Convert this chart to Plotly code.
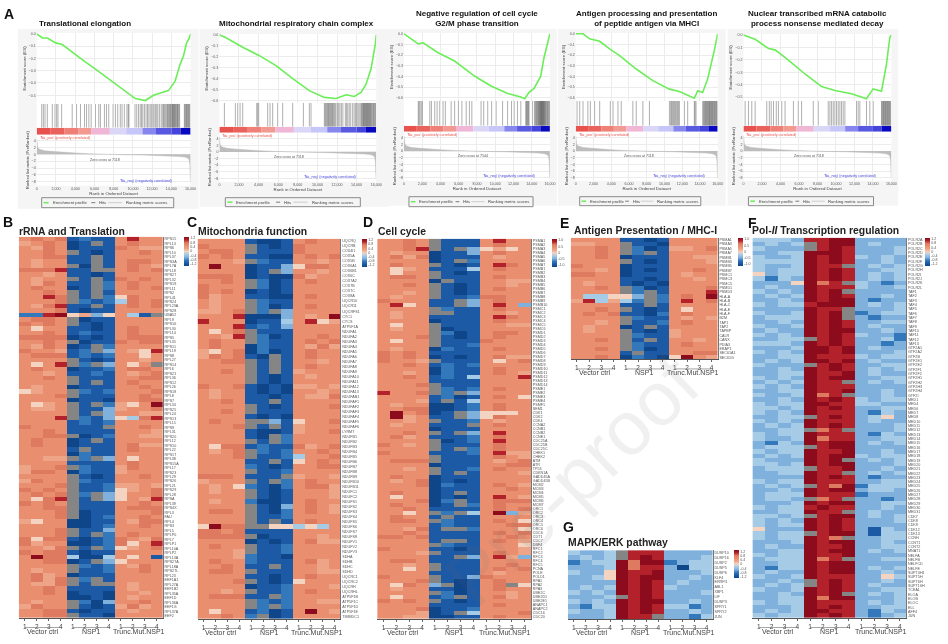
import plotly.graph_objects as go

W, H = 948, 644

# ---------- GSEA data ----------
GSEA_TITLES = ["Translational elongation", "Mitochondrial respiratory chain complex",
               "Negative regulation of cell cycle<br>G2/M phase transition",
               "Antigen processing and presentation<br>of peptide antigen via MHCI",
               "Nuclear transcribed mRNA catabolic<br>process nonsense mediated decay"]
ZERO_CROSS = [7118, 7118, 7544, 7118, 7118]
ES_RANK_1 = [0, 590, 1100, 1970, 2660, 3520, 4900, 5930, 7660, 9380, 10250, 11280, 12140, 13180, 13700, 14390, 14900, 15250, 15590, 15870, 16000]
ES_VAL_1 = [0, -0.033, -0.033, -0.073, -0.087, -0.14, -0.22, -0.277, -0.38, -0.48, -0.527, -0.543, -0.5, -0.473, -0.462, -0.386, -0.25, -0.182, -0.073, -0.033, 0]
ES_RANK_2 = [0, 680, 2380, 4080, 5780, 7480, 9180, 10710, 11900, 12925, 13775, 14455, 14965, 15475, 15920, 16000]
ES_VAL_2 = [0, -0.027, -0.113, -0.19, -0.28, -0.40, -0.509, -0.57, -0.58, -0.546, -0.562, -0.526, -0.45, -0.31, -0.08, 0]
ES_RANK_3 = [0, 1560, 2100, 3740, 5550, 7730, 9540, 11360, 12810, 13240, 13715, 14260, 14985, 15350, 15710, 16000]
ES_VAL_3 = [0, -0.094, -0.084, -0.178, -0.256, -0.397, -0.49, -0.56, -0.594, -0.61, -0.55, -0.513, -0.4, -0.225, -0.1, 0]
ES_RANK_4 = [0, 820, 1570, 2700, 3820, 4940, 6820, 8690, 10560, 11690, 13370, 13750, 14310, 14870, 15620, 16000]
ES_VAL_4 = [0, 0, -0.047, -0.07, -0.142, -0.205, -0.331, -0.44, -0.52, -0.543, -0.606, -0.536, -0.552, -0.426, -0.158, 0]
ES_RANK_5 = [0, 1260, 2700, 3420, 4860, 6650, 8450, 9890, 11690, 13300, 14030, 14930, 15470, 15830, 16000]
ES_VAL_5 = [0, -0.035, -0.109, -0.12, -0.202, -0.314, -0.415, -0.447, -0.473, -0.513, -0.434, -0.452, -0.234, -0.021, 0]

HITS_1 = [520, 690, 860, 1100, 1620, 1900, 2070, 2210, 2590, 3690, 4140, 4550, 4970, 5180, 5420, 5660, 6110, 6450, 6620, 7040, 7250, 7490, 7940, 8180, 8420, 8690, 8870, 9110, 9380, 9520, 9590, 10220, 10400, 10590, 10760, 10900, 11030, 11200, 11370, 11520, 11660, 11800, 11950, 12080, 12200, 12340, 12480, 12600, 12780, 12950, 13100, 13190, 13280, 13400, 13510, 13600, 13680, 13760, 13840, 13900, 13980, 14060, 14120, 14180, 14240, 14300, 14360, 14420, 14500, 14570, 14640, 14700, 14780, 14860, 15350, 15420, 15500, 15570, 15640, 15710, 15790, 15860, 15930]
HITS_2 = [510, 1630, 1870, 2110, 2380, 3810, 3910, 4010, 4930, 5170, 5440, 5950, 6460, 7480, 8570, 9180, 9350, 10710, 10800, 10880, 10970, 11050, 11130, 11210, 11290, 11370, 11450, 11540, 11620, 11710, 11800, 11900, 12050, 12170, 12300, 12450, 12600, 12850, 12980, 13100, 13250, 13400, 13600, 13750, 13900, 14000, 14130, 14250, 14380, 14500, 14570, 14640, 14700, 14760, 14820, 14880, 14940, 15000, 15060, 15120, 15180, 15240, 15300, 15360, 15420, 15500, 15570, 15650, 15730, 15800, 15880, 15950]
HITS_3 = [1560, 1650, 1760, 1900, 2030, 2830, 3010, 3370, 3630, 3920, 4280, 4530, 5170, 5550, 5970, 6350, 6820, 7170, 7440, 8450, 8740, 9180, 9610, 10100, 10810, 11360, 11790, 12080, 12440, 12810, 13350, 13420, 13500, 13570, 13640, 13720, 14080, 14300, 14400, 14480, 14550, 14620, 14700, 14760, 14820, 14880, 14930, 14980, 15030, 15080, 15130, 15180, 15230, 15280, 15330, 15380, 15440, 15500, 15570, 15650, 15730, 15800, 15880, 15950]
HITS_4 = [150, 450, 820, 1370, 1650, 2130, 2700, 3900, 4200, 4760, 5130, 6440, 6820, 7570, 8310, 10560, 10700, 10800, 10900, 11020, 11130, 11240, 11350, 11470, 11580, 11690, 12250, 12620, 13370, 13450, 13560, 14310, 14400, 14500, 14570, 14640, 14720, 14790, 14870, 14940, 15010, 15080, 15150, 15220, 15290, 15360, 15430, 15500, 15580, 15650, 15730, 15800, 15880, 15950]
HITS_5 = [180, 540, 900, 1260, 2520, 2800, 3000, 3250, 3550, 3780, 4140, 4500, 5400, 5930, 6290, 7550, 8090, 9170, 9350, 9530, 9710, 9890, 10070, 10250, 10430, 10610, 10790, 10970, 12230, 12410, 12590, 13310, 13670, 14030, 14930, 15010, 15080, 15150, 15220, 15290, 15360, 15430, 15500, 15570, 15640, 15710, 15780, 15850, 15930]

RANK_X = [0, 30, 100, 300, 800, 1500, 2500, 4000, 5500, 7118, 9000, 11000, 12500, 13800, 14800, 15400, 15700, 15850, 15920, 15970, 16000]
RANK_METRIC = [4.6, 3, 2, 1.5, 1.1, 0.9, 0.65, 0.4, 0.18, 0, -0.1, -0.2, -0.3, -0.45, -0.6, -0.8, -1.1, -1.6, -3, -7, -8.2]
BAND_EDGES = [0, 1400, 2900, 4300, 5700, 7600, 9300, 11000, 12400, 14000, 14950, 16000]
BAND_COLORS = ["#e8524c", "#ea625c", "#ef8078", "#f29a92", "#efb6d6", "#d9d6f6", "#c6c6f8", "#8686ee", "#5858e0", "#4444dc", "#0808c0"]

GSEA_BOX = [
    dict(x0=36, x1=191, es0=32, es1=103, hit1=127, band1=134, rank1=185, esmin=-0.57, rmax=5.75, rmin=-9.2, bg=(17, 199, 28, 208), leg=(41, 174, 197, 207)),
    dict(x0=220, x1=378, es0=33, es1=102, hit1=126, band1=132, rank1=181, esmin=-0.62, rmax=5.8, rmin=-9.0, bg=(200, 390, 28, 206), leg=(226, 362, 197, 206)),
    dict(x0=406, x1=553, es0=32, es1=100, hit1=125, band1=131, rank1=180, esmin=-0.63, rmax=5.8, rmin=-8.9, bg=(390, 560, 28, 205), leg=(411, 536, 196, 206)),
    dict(x0=579, x1=722, es0=32, es1=100, hit1=125, band1=131, rank1=180, esmin=-0.63, rmax=5.8, rmin=-8.9, bg=(561, 730, 28, 205), leg=(583, 705, 196, 205)),
    dict(x0=748, x1=897, es0=33, es1=100, hit1=125, band1=131, rank1=180, esmin=-0.53, rmax=5.8, rmin=-8.9, bg=(732, 904, 28, 205), leg=(753, 879, 196, 205)),
]
ES_DATA = [(ES_RANK_1, ES_VAL_1, HITS_1), (ES_RANK_2, ES_VAL_2, HITS_2), (ES_RANK_3, ES_VAL_3, HITS_3), (ES_RANK_4, ES_VAL_4, HITS_4), (ES_RANK_5, ES_VAL_5, HITS_5)]

# ---------- Heatmap data: one string per gene, 12 samples; levels 0 (deep blue) .. 9, T (deep red); x = missing ----------
B_ROWS = ["7878 1211 7977","6787 01x1 7877","7687 0111 8766","7787 x101 7787","7788 11x1 7777","7677 11x1 7887","7677 x0x1 7876","8889 11xx 7878","7767 1101 7777","7677 x1x1 8787",
"7687 11x2 7877","7877 01x2 7878","7787 x1x1 7777","7798 x1x2 5877","7778 x212 4878","7689 11x1 7878","7778 1011 7777","229T 5635 741x","7887 x011 7777","8787 x101 7777",
"7577 1101 7877","7787 1211 7877","8888 0101 7888","7787 x011 8788","7687 01x2 7777","8776 12x3 7659","7888 1212 7757","7777 x101 7767","7579 x2x3 757x","7877 0112 7887",
"7767 1121 7678","7787 x111 7788","7777 x1x1 7877","7677 0111 7787","5677 x212 7778","7778 x111 7787","7777 0110 7788","7567 x1x2 657T","7667 x113 6778","7777 x1x3 7766",
"7779 x213 5489","7777 1212 7777","8777 111x 7787","7787 1111 7776","7788 x012 7766","7877 01x1 7777","7877 0111 7866","7777 1x11 7877","7777 0211 7777","7766 x2x3 7577",
"7777 1111 7877","6778 x211 6877","6887 0211 6777","7777 x101 7787","6877 x211 7777","7778 x112 6676","8787 x112 5678","7878 x2x3 5778","7589 x1x3 5769","8787 x111 7787",
"7788 x111 7888","7778 x011 7778","7778 x012 7787","6577 0011 7688","7777 0012 7787","7778 x113 7777","7778 x1x2 7877","8588 1012 8768","8677 0012 8579","7768 x1x2 5678",
"8788 1011 7777","7T88 4004 7571","7788 01x3 5777","7777 x212 7687","7677 x112 7787","7867 0111 7777","7868 x2x1 7777","7668 x1xx 7677","7787 1111 7677","7787 0110 7767",
"7777 0010 7677","7677 x203 7787","6877 x101 6867","7788 1011 7677","7788 x110 7777"]
C_ROWS = ["7777 1001 7877","8777 x101 8777","7887 x111 8777","8787 1100 7878","7776 x211 7767","7T77 0113 5887","7777 01x3 7767","8887 0100 8677","7787 x201 7877","8777 x201 7777",
"8787 0101 7777","8677 1100 7877","7677 x211 7777","7677 x201 7877","6678 x2x3 7777","7779 0003 767T","9777 0114 7956","7779 1213 7777","7578 x111 7777","7769 x201 7787",
"7877 x211 7878","7877 0211 7686","6578 0201 7877","6878 10x1 7877","7788 x1x1 7767","7777 x1x1 7877","7787 x1x1 6777","7777 x101 7677","7777 x101 7777","8778 1010 6676",
"7677 1010 7767","7677 1101 7668","7787 11x1 7777","7777 x101 7778","7787 x111 7777","7777 1010 7777","7877 xx31 5778","7778 x1x1 6777","7777 1001 6778","7777 10x2 7777",
"7777 x1x2 7777","7588 1211 8678","7678 x212 7787","7778 x112 4778","7777 11x1 5787","7777 2101 7788","7777 x112 7777","8887 111x 6776","6777 x1x2 7877","7675 2102 7886",
"7677 x101 7776","7777 x101 7776","7677 2001 7877","7777 x103 7876","7887 x102 7876","7777 x112 7777","7777 x1x1 7877","5T88 xx55 4547","8878 1111 7777","8888 x011 7767",
"7777 0101 7866","7877 x112 7777","7776 x112 7777","7776 2110 7777","7877 2111 7867","7787 11x1 7767","7887 x111 7766","7777 1101 7877","7778 x101 5777","7777 0112 7776",
"7767 x112 7877","7888 11x2 7777","7777 x212 7766","7777 x2x2 7777","7577 1201 7T76","7787 2x01 7777"]
D_ROWS = ["7787 x111 7977","7787 x111 7877","7789 x1x3 5657","7677 0113 7877","7868 0111 7677","7777 01x2 7777","7877 x101 7987","7567 1114 7877","7577 x101 7777","7887 x111 7877",
"7777 0x11 7766","7787 x101 7767","7777 x101 7877","7767 x101 7777","7677 x112 8877","8777 11x3 7877","7957 11x3 7973","7777 x211 7877","7677 xx11 7767","7677 1111 7987",
"7777 0111 7877","7577 x111 7766","7677 x011 7777","7777 x201 7887","7778 x101 7877","7577 x111 8777","7777 x112 7777","7677 0211 7877","8787 1111 7777","8787 0101 7866",
"8776 x111 7578","7787 1212 7777","7777 0211 7877","7767 0211 7876","7787 1214 7779","7777 1111 7777","7778 x111 7777","7777 x212 7877","9778 x2x3 7777","7777 1201 7875",
"7776 1x14 7777","7677 0012 7877","7788 0012 7877","7T78 01x3 5557","7T67 11x3 5877","7767 x112 7677","7677 111x 7877","7777 0111 7777","7787 x1x3 7977","7867 1112 7877",
"7777 x012 7977","8767 x111 7877","7777 x1x2 7877","8777 1112 7966","7777 x111 7876","7888 x111 7678","7777 0111 7788","7767 x112 7877","7777 x1x1 7776","7877 0111 7777",
"7678 0101 7777","7778 0211 7876","7777 0111 7787","7877 01x1 7777","7577 0101 7976","7778 02x1 7888","7877 01x2 7877","7787 1111 7878","7757 x2x4 7T36","7877 1x11 7777",
"7887 x211 7875","7777 1211 7788","7768 1xx2 7775","7787 1111 7878","8878 1111 7787","7777 1xx1 7876","7777 x211 7775","8777 1101 7776","7776 x111 7876","7777 11x3 7963",
"7887 1111 7777","7767 x111 7787","7757 x111 7878","7777 1111 7677","8777 x113 8777","7778 x101 7877","7587 3x01 78x5","7677 1101 7877","7777 x201 7767","7577 12x1 7867",
"8787 x101 7777","7777 1111 7877","7778 0112 7777","7776 01x4 7778","7766 0011 7877"]
E_ROWS = ["7777 1101 7777","6677 x110 7777","7787 x201 6678","7787 x2x1 7777","7787 0111 7766","7777 x101 7776","8777 0111 7777","7767 0101 7787","8877 0111 7677","7777 1101 7767",
"7677 1010 7777","7787 x201 7778","7777 x2x1 7779","7445 53x2 787T","6946 42x2 7978","7777 11x1 7777","7787 x101 7577","7878 1102 7877","7777 x211 7676","7767 x112 7877",
"7677 01x1 7777","7677 x101 6777","7777 x211 6777","7787 x1x1 7767","7777 x211 7877","7787 x201 7777","7777 1x11 7788","7787 0210 5T76"]
F_ROWS = ["4443 99TT 3333","3434 x9TT 3433","4333 x9T9 3334","3344 TTT9 3334","4334 T9T9 4343","4444 T9T9 3343","4334 T99x 3434","4344 T9T9 3344","5344 T9T9 3434","4243 T9T9 3434",
"3335 T89x 4323","3433 T999 4334","4343 T9Tx 3333","3434 T9T9 3343","3343 T9TT 3233","4344 9TTT 3434","3333 T99x 3334","4334 T9Tx 2344","3444 T9Tx 3233","3343 T9T9 3344",
"4334 T9T9 3433","3433 T9TT 3343","4343 T9T9 4332","3344 x9T9 3342","4443 T9T9 3323","3334 TT9T 3433","4343 TT9T 3334","3344 T999 4344","3434 TT9T 3433","4333 x9T9 3344",
"3343 T9T9 3434","3344 T99T 3433","4343 T9TT 3344","3434 T99x 3434","4343 T999 3333","3344 T99T 3343","4334 T89x 3343","3343 T9T9 4344","4344 TT99 4433","4434 T9T9 3344",
"4343 T999 3243","3344 x9T9 3453","4343 T999 3433","3434 T9T9 3334","3344 x89x 3334","4344 T999 3243","4334 T899 3344","3243 T9TT 3434","3444 x9TT 3333","4344 T99T 3343",
"3434 T9TT 4344","4333 T9Tx 3434","4434 T9TT 3334","3444 x99T 3343","3344 T99x 3434","3333 T9T9 3233","4344 T999 3344","3434 x98T 2444","3343 T9TT 3443","3444 T999 2333",
"3443 x89x 3323","3334 T9TT 3344","4344 9T99 3343","3344 T99x 3433","4434 x9TT 3434","4343 T9T9 3334","4344 T9T9 3333","5333 T9T9 3143","4344 x9TT 3144","4344 T98x 3344",
"3334 T9TT 3343","3433 T99T 3344","3344 T9TT 3434","4344 T99T 3333","3444 T89x 3344","3344 T9TT 3333","3244 T9TT 3434","3433 T9TT 3343","4334 T999 3354","3343 x9T9 3343",
"3434 x9T9 3433","4334 T9T9 3344","3343 T9Tx 3434","3344 T8TT 3334","4344 T999 3434","3334 T9T9 3344","3434 TT99 3243","4344 T9T9 3234"]
G_ROWS = ["4334 x999 3333","3434 x9T9 3334","2344 T8TT 2344","3334 T899 3044","4335 T99T 3334","3345 T9TT 3343","3333 T9T9 3433","3434 T9T9 4333","4343 T9T9 3334","3334 x9T9 3333",
"4343 T9TT 3343","3244 T9T9 4423","4334 T9T9 3343","3334 T99x 3324"]

B_GENES = "RPS15 RPL13 RPS6 RPL10 RPL37 RPS3A RPL7A RPL18 RPS27 RPL32 RPS19 RPL11 RPS2 RPL41 RPS24 RPL23A RPS28 UBA52 RPL9 RPS16 RPL30 RPL14 RPS5 RPL35 RPS11 RPL19 RPS8 RPL27 RPS14 RPL6 RPS21 RPL36 RPS12 RPL26 RPS18 RPL8 RPS7 RPL34 RPS25 RPL24 RPS13 RPL15 RPS9 RPL31 RPS20 RPL12 RPS10 RPL22 RPS17 RPL38 RPS15A RPL17 RPS23 RPL29 RPS26 RPL21 RPS29 RPL28 RPSA RPL39 RPS4X RPL3 FAU RPL4 RPS3 RPL5 RPLP0 RPL7 RPLP1 RPL10A RPLP2 RPL13A RPS27A RPL18A RPS27L RPL23 EEF1A1 RPL27A EEF1B2 RPL35A EEF1D RPL36A EEF1G RPL37A EEF2".split()
C_GENES = "UQCRQ UQCRB COX4I1 COX5A COX5B COX6A1 COX6B1 COX6C COX7A2 COX7B COX7C COX8A UQCR10 UQCR11 UQCRFS1 CYC1 CYCS ATP5F1A NDUFA1 NDUFA2 NDUFA3 NDUFA4 NDUFA5 NDUFA6 NDUFA7 NDUFA8 NDUFA9 NDUFA10 NDUFA11 NDUFA12 NDUFA13 NDUFAB1 NDUFAF1 NDUFAF2 NDUFAF3 NDUFAF4 NDUFAF5 NDUFAF6 LYRM7 NDUFB1 NDUFB2 NDUFB3 NDUFB4 NDUFB5 NDUFB6 NDUFB7 NDUFB8 NDUFB9 NDUFB10 NDUFB11 NDUFC1 NDUFC2 NDUFS1 NDUFS2 NDUFS3 NDUFS4 NDUFS5 NDUFS6 NDUFS7 NDUFS8 NDUFV1 NDUFV2 NDUFV3 SDHA SDHB SDHC SDHD UQCRC1 UQCRC2 UQCRH UQCRHL ATP5F1B ATP5F1C ATP5F1D ATP5F1E TIMMDC1".split()
D_GENES = "PSMA1 PSMA2 PSMA3 PSMA4 PSMA5 PSMA6 PSMA7 PSMB1 PSMB2 PSMB3 PSMB4 PSMB5 PSMB6 PSMB7 PSMB8 PSMB9 PSMB10 PSMC1 PSMC2 PSMC3 PSMC4 PSMC5 PSMC6 PSMD1 PSMD2 PSMD3 PSMD4 PSMD5 PSMD6 PSMD7 PSMD8 PSMD9 PSMD10 PSMD11 PSMD12 PSMD13 PSMD14 PSME1 PSME2 PSME3 PSME4 PSMF1 SEM1 CDK1 CDK2 CDK4 CCNA2 CCNB1 CCNB2 CCNE1 CDC25A CDC25B CDC25C CHEK1 CHEK2 ATM ATR TP53 CDKN1A GADD45A GADD45B MCM2 MCM3 MCM4 MCM5 MCM6 MCM7 ORC1 ORC2 ORC3 ORC4 ORC5 ORC6 CDC6 CDT1 CDC7 DBF4 RFC1 RFC2 RFC3 RFC4 RFC5 PCNA POLE POLD1 RPA1 RPA2 RPA3 UBE2C UBE2D1 UBE2E1 ANAPC1 ANAPC2 CDC16 CDC20".split()
E_GENES = "PSMA1 PSMA3 PSMA5 PSMA7 PSMB1 PSMB3 PSMB5 PSMB7 PSMC1 PSMC3 PSMC5 PSMD1 PSMD3 HLA-A HLA-B HLA-C HLA-E HLA-F B2M TAP1 TAP2 TAPBP CALR CANX PDIA3 ERAP1 SEC61A1 SEC61G".split()
F_GENES = "POLR2A POLR2B POLR2C POLR2D POLR2E POLR2F POLR2G POLR2H POLR2I POLR2J POLR2K POLR2L TAF1 TAF2 TAF3 TAF4 TAF5 TAF6 TAF7 TAF8 TAF9 TAF10 TAF11 TAF12 TAF13 GTF2A1 GTF2A2 GTF2B GTF2E1 GTF2E2 GTF2F1 GTF2F2 GTF2H1 GTF2H2 GTF2H3 GTF2H4 GTF2I MED1 MED4 MED6 MED7 MED8 MED10 MED11 MED12 MED13 MED14 MED15 MED16 MED17 MED18 MED19 MED20 MED21 MED22 MED23 MED24 MED25 MED26 MED27 MED28 MED29 MED30 MED31 CDK7 CDK8 CDK9 CDK12 CDK13 CCNH CCNT1 CCNT2 MNAT1 NELFA NELFB NELFCD NELFE SUPT4H1 SUPT5H SUPT6H SUPT16H TCEA1 ELOA ELOB ELOC ELL AFF4 JUN".split()
G_GENES = "DUSP10 DUSP16 DUSP2 DUSP5 DUSP6 KLF4 ERRFI1 ABL1 XBP1 LIF DUSP3 SPRY1 SPRY2 JUN".split()

GROUPS = ["Vector ctrl", "NSP1", "Trunc.Mut.NSP1"]
SAMPLES = ["1", "2", "3", "4"] * 3
CB_12 = ["-1.2", "-0.8", "-0.4", "0", "0.4", "0.8", "1.2"]
CB_10 = ["-1.0", "-0.5", "0", "0.5", "1.0"]

PANELS = [
    ("B", "rRNA and Translation", B_ROWS, B_GENES, (18, 163, 236, 618), (18, 231), (184, 236, 265), CB_12, (0, 221)),
    ("C", "Mitochondria function", C_ROWS, C_GENES, (198, 342, 238, 619), (198, 231), (364, 238, 266), CB_12, (185, 221)),
    ("D", "Cell cycle", D_ROWS, D_GENES, (379, 534, 238, 619), (380, 231), (555, 238, 266), CB_10, (363, 221)),
    ("E", "Antigen Presentation / MHC-I", E_ROWS, E_GENES, (574, 722, 237, 359), (577, 230), (742, 237, 265), CB_10, (561, 222)),
    ("F", "Pol-<i>II</i> Transcription regulation", F_ROWS, F_GENES, (757, 912, 237, 618), (757, 230), (931, 237, 265), CB_12, (751, 222)),
    ("G", "MAPK/ERK pathway", G_ROWS, G_GENES, (571, 717, 550, 619), (571, 542), (738, 550, 578), CB_12, (564, 527)),
]

HEAT_COLORS = ["#0f4589", "#1c5aa6", "#3478bc", "#7fb1dc", "#a6cbe7", "#f4d3c0", "#eea486", "#e98f70", "#de7a5f", "#b3222b", "#8c0b1c"]
SCALE = [[i / 10, c] for i, c in enumerate(HEAT_COLORS)]
GRAY = "#858585"


def px(x):
    return x / W


def py(y):
    return 1 - y / H


fig = go.Figure()
layout = {}
shapes = []
annots = []
axis_count = [0]


def axes(box, xopts, yopts):
    axis_count[0] += 1
    n = axis_count[0]
    xa, ya = ("x", "y") if n == 1 else (f"x{n}", f"y{n}")
    xk, yk = ("xaxis", "yaxis") if n == 1 else (f"xaxis{n}", f"yaxis{n}")
    x0, x1, y0, y1 = box
    layout[xk] = dict(domain=[px(x0), px(x1)], anchor=ya, **xopts)
    layout[yk] = dict(domain=[py(y1), py(y0)], anchor=xa, **yopts)
    return xa, ya


def text(x, y, s, size, color="#333", anchor="left", bold=False, angle=0):
    annots.append(dict(x=px(x), y=py(y), xref="paper", yref="paper", text=f"<b>{s}</b>" if bold else s,
                       showarrow=False, xanchor=anchor, yanchor="middle", textangle=angle,
                       font=dict(size=size, color=color, family="Liberation Sans, Arial, sans-serif")))


def rect(x0, x1, y0, y1, fill, line=None, lw=0):
    shapes.append(dict(type="rect", xref="paper", yref="paper", x0=px(x0), x1=px(x1), y0=py(y1), y1=py(y0),
                       fillcolor=fill, line=dict(color=line or fill, width=lw), layer="below"))


def hline(x0, x1, y, color, lw=1):
    shapes.append(dict(type="line", xref="paper", yref="paper", x0=px(x0), x1=px(x1), y0=py(y), y1=py(y),
                       line=dict(color=color, width=lw)))


text(1, 13, "A", 14, "#111", bold=True)

TF = dict(size=3.6, color="#555")
HIDE = dict(showgrid=False, zeroline=False, showticklabels=False, ticks="", showline=False)
RANK_TICKS = [0, 2000, 4000, 6000, 8000, 10000, 12000, 14000, 16000]

for i, g in enumerate(GSEA_BOX):
    ranks, es, hits = ES_DATA[i]
    x0, x1 = g["x0"], g["x1"]
    bx0, bx1, by0, by1 = g["bg"]
    rect(bx0, bx1, by0, by1, "#f5f5f5")
    rect(x0, x1, g["es0"], g["rank1"], "#ffffff")
    xa, ya = axes((x0, x1, g["es0"], g["es1"]),
                  dict(range=[0, 16000], showticklabels=False, ticks="", showgrid=True, gridcolor="#ececec", gridwidth=0.5,
                       tickvals=RANK_TICKS, zeroline=False, showline=False),
                  dict(range=[g["esmin"], 0.008], tickvals=[0, -0.1, -0.2, -0.3, -0.4, -0.5, -0.6][: 6 if g["esmin"] > -0.6 else 7],
                       tickformat=".1f", tickfont=TF, ticks="", ticklen=0, showgrid=True, gridcolor="#ececec", gridwidth=0.5,
                       zeroline=False, showline=False, title=dict(text="Enrichment score (ES)", font=dict(size=4.4, color="#444"), standoff=2)))
    fig.add_trace(go.Scatter(x=ranks, y=es, mode="lines", line=dict(color="#6bee58", width=1.6), xaxis=xa, yaxis=ya, name="Enrichment profile"))
    xa, ya = axes((x0, x1, g["es1"], g["hit1"]), dict(range=[0, 16000], **HIDE), dict(range=[0, 1], **HIDE))
    hx, hy = [], []
    for h in hits:
        hx += [h, h, None]
        hy += [0, 1, None]
    fig.add_trace(go.Scatter(x=hx, y=hy, mode="lines", line=dict(color="rgba(0,0,0,0.45)", width=0.7), xaxis=xa, yaxis=ya, name="Hits"))
    xa, ya = axes((x0, x1, g["hit1"], g["band1"]), dict(range=[0, 16000], **HIDE), dict(range=[-0.5, 0.5], **HIDE))
    widths = [b - a for a, b in zip(BAND_EDGES, BAND_EDGES[1:])]
    fig.add_trace(go.Bar(x=widths, base=BAND_EDGES[:-1], y=[0] * len(widths), orientation="h", width=1,
                         marker=dict(color=BAND_COLORS, line=dict(width=0)), xaxis=xa, yaxis=ya, name="Ranked list"))
    xa, ya = axes((x0, x1, g["band1"], g["rank1"]),
                  dict(range=[0, 16000], tickvals=RANK_TICKS, tickformat=",d", tickfont=TF, ticks="", showgrid=True, gridcolor="#ececec",
                       gridwidth=0.5, zeroline=False, showline=False,
                       title=dict(text="Rank in Ordered Dataset", font=dict(size=4.4, color="#444"), standoff=1)),
                  dict(range=[g["rmin"], g["rmax"]], tickvals=[4, 2, 0, -2, -4, -6, -8], tickfont=TF, ticks="", showgrid=True, gridcolor="#ececec",
                       gridwidth=0.5, zeroline=False, showline=False,
                       title=dict(text="Ranked list metric (PreRanked)", font=dict(size=4.2, color="#444"), standoff=2)))
    fig.add_trace(go.Scatter(x=RANK_X, y=RANK_METRIC, mode="lines", fill="tozeroy", fillcolor="#bdbdbd",
                             line=dict(color="#bdbdbd", width=0.5), xaxis=xa, yaxis=ya, name="Ranking metric scores"))
    annots.append(dict(x=ZERO_CROSS[i], y=-1.6, xref=xa, yref=ya, text=f"Zero cross at {ZERO_CROSS[i]}", showarrow=False,
                       font=dict(size=3.6, color="#555")))
    w = x1 - x0
    text(x0 + 1, g["band1"] + 3, "'Na_pos' (positively correlated)", 3.7, "#e8524c")
    text(x0 + w * 0.53, g["rank1"] - 5, "'Na_neg' (negatively correlated)", 3.7, "#4444dc")
    cx = (x0 + x1) / 2 if i > 0 else 85
    if i == 1:
        cx = 298
    annots.append(dict(x=px(cx), y=py(29), xref="paper", yref="paper", text=f"<b>{GSEA_TITLES[i]}</b>", showarrow=False,
                       xanchor="center", yanchor="bottom", font=dict(size=8, color="#111", family="Liberation Sans, Arial, sans-serif")))
    lx0, lx1, ly0, ly1 = g["leg"]
    shapes.append(dict(type="rect", xref="paper", yref="paper", x0=px(lx0), x1=px(lx1), y0=py(ly1), y1=py(ly0),
                       fillcolor="#f5f5f5", line=dict(color="#8a8a8a", width=1)))
    lm = (ly0 + ly1) / 2
    k = (lx1 - lx0) / 133
    hline(lx0 + 2 * k, lx0 + 7 * k, lm, "#6bee58", 1.5)
    text(lx0 + 9 * k, lm, "Enrichment profile", 4.2, "#444")
    hline(lx0 + 50 * k, lx0 + 54 * k, lm, "#444", 0.7)
    text(lx0 + 56 * k, lm, "Hits", 4.2, "#444")
    hline(lx0 + 67 * k, lx0 + 81 * k, lm, "#cccccc", 1)
    text(lx0 + 83 * k, lm, "Ranking metric scores", 4.2, "#444")

LEVEL = {str(d): d for d in range(10)}
LEVEL["T"] = 10
LEVEL["x"] = None

for name, title, rows, genes, box, tpos, cb, cblabels, lpos in PANELS:
    z = [[LEVEL[c] for c in r.replace(" ", "")] for r in rows]
    mask = [[1 if v is None else None for v in r] for r in z]
    n = len(rows)
    x0, x1, y0, y1 = box
    xa, ya = axes(box,
                  dict(range=[-0.5, 11.5], tickmode="array", tickvals=list(range(12)), ticktext=SAMPLES,
                       tickfont=dict(size=6.5, color="#444"), ticks="outside", ticklen=2, tickwidth=0.6, tickcolor="#666",
                       showline=True, linecolor="#555", linewidth=1, showgrid=False, zeroline=False),
                  dict(range=[n - 0.5, -0.5], side="right", tickmode="array", tickvals=list(range(len(genes))), ticktext=genes,
                       tickfont=dict(size=3.7, color="#555"), ticks="", showline=True, linecolor="#777", linewidth=1,
                       showgrid=False, zeroline=False))
    fig.add_trace(go.Heatmap(z=mask, colorscale=[[0, GRAY], [1, GRAY]], showscale=False, xaxis=xa, yaxis=ya, hoverinfo="skip"))
    fig.add_trace(go.Heatmap(z=z, colorscale=SCALE, zmin=0, zmax=10, xaxis=xa, yaxis=ya, name=name,
                             colorbar=dict(x=px(cb[0]), xanchor="left", y=py(cb[1]), yanchor="top", lenmode="pixels", len=cb[2] - cb[1],
                                           thicknessmode="pixels", thickness=5, xpad=0, ypad=0, outlinewidth=0, ticks="", ticklabelposition="outside",
                                           tickmode="array", tickvals=[0.5 + 9 * j / (len(cblabels) - 1) for j in range(len(cblabels))], ticktext=cblabels,
                                           tickfont=dict(size=3.6, color="#555"))))
    text(tpos[0] - 2, tpos[1], title, 10.4, "#222", bold=True)
    text(lpos[0], lpos[1], name, 14, "#111", bold=True)
    cw = (x1 - x0) / 12
    for gi, grp in enumerate(GROUPS):
        a = x0 + cw * (gi * 4 + 0.5)
        b = x0 + cw * (gi * 4 + 3.5)
        hline(a, b, y1 + 9.5, "#666", 0.6)
        text((a + b) / 2, y1 + 13, grp, 7, "#444", anchor="center")

annots.append(dict(x=px(575), y=py(480), xref="paper", yref="paper", text="Pre-proof", showarrow=False, textangle=-44,
                   xanchor="center", yanchor="middle",
                   font=dict(size=76, color="rgba(110,110,110,0.10)", family="Liberation Sans, Arial, sans-serif")))

fig.update_layout(width=W, height=H, margin=dict(l=0, r=0, t=0, b=0), autosize=False, showlegend=False,
                  paper_bgcolor="#ffffff", plot_bgcolor="rgba(0,0,0,0)", barmode="overlay",
                  font=dict(family="Liberation Sans, Arial, sans-serif"), shapes=shapes, annotations=annots, **layout)

POST = """
document.body.style.margin='0';
document.documentElement.style.overflow='hidden';
document.getElementById('{plot_id}').style.filter='blur(0.7px)';
"""
fig.write_html("out.html", post_script=POST, config={"displayModeBar": False})
